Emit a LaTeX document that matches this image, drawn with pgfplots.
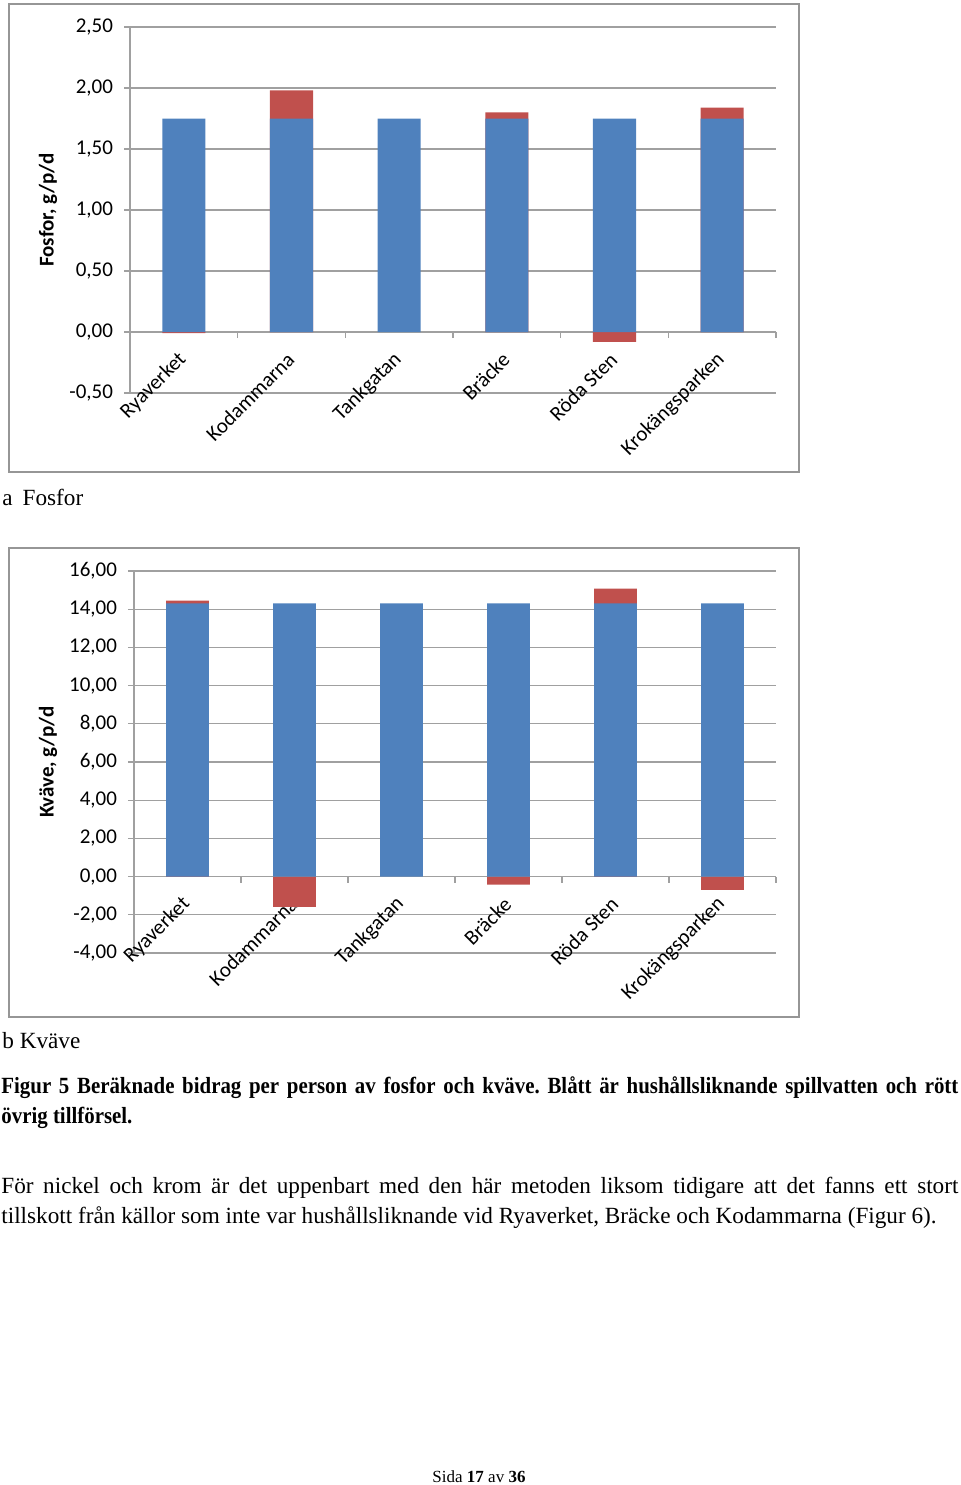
\documentclass[border=0pt]{standalone}
\usepackage{fontspec}
\setmainfont{Liberation Serif}
\newfontfamily\capfam[FakeStretch=0.9]{Liberation Serif}
\newfontfamily\chartfont{Carlito}
\usepackage{pgfplots}
\pgfplotsset{compat=1.18}
\definecolor{xlblue}{HTML}{4F81BD}
\definecolor{xlred}{HTML}{C0504D}
\definecolor{gridgray}{HTML}{A0A0A0}
\definecolor{framegray}{HTML}{969696}
\frenchspacing

\pgfplotsset{xlchart/.style={
  scale only axis,
  axis x line*=middle, axis y line*=left,
  hide obscured x ticks=false, hide obscured y ticks=false,
  xmin=0, xmax=6,
  xtick={0,...,6}, xticklabels={},
  tick align=outside, major tick length=3pt,
  every tick/.style={gridgray, line width=0.6pt},
  axis line style={gridgray, line width=0.6pt},
  ymajorgrids, grid style={gridgray, line width=0.6pt},
  extra x ticks={0.5,1.5,...,5.5},
  extra x tick labels={Ryaverket,Kodammarna,Tankgatan,Bräcke,Röda Sten,Krokängsparken},
  extra x tick style={major tick length=0pt, tick label style={rotate=45, anchor=east, xshift=-5.4pt, yshift=-8.3pt}},
  ticklabel style={font=\chartfont\fontsize{10.5}{12}\selectfont},
  yticklabel style={xshift=-2pt},
  /pgf/number format/.cd, use comma, fixed, fixed zerofill, precision=2, assume math mode=true,
  /pgfplots/.cd,
  ylabel style={font=\chartfont\bfseries\fontsize{10.5}{12}\selectfont, anchor=center},
  ybar, bar width=0.4, bar shift=0pt,
}}

\begin{document}
\begin{tikzpicture}
\path[use as bounding box] (0,0) rectangle (480pt,-742.5pt);
\draw[framegray, line width=0.6pt] (4.5pt,-2pt) rectangle (399.5pt,-236pt);
\draw[framegray, line width=0.6pt] (4.5pt,-274pt) rectangle (399.5pt,-508.5pt);

% a Fosfor
\begin{axis}[xlchart, at={(65pt,-13.5pt)}, anchor=north west,
  width=323pt, height=183pt,
  ymin=-0.5, ymax=2.5, ytick={-0.5,0,0.5,1,1.5,2,2.5},
  ylabel={Fosfor, g/p/d},
  ylabel style={at={(axis description cs:-0.127,0.5)}}]
  % red: total height where the other supply is positive
  \addplot[fill=xlred, draw=none] coordinates {(1.5,1.98) (3.5,1.80) (5.5,1.84)};
  % red: negative other supply
  \addplot[fill=xlred, draw=none] coordinates {(0.5,-0.01) (4.5,-0.08)};
  % blue: household-like wastewater
  \addplot[fill=xlblue, draw=none] coordinates {(0.5,1.75) (1.5,1.75) (2.5,1.75) (3.5,1.75) (4.5,1.75) (5.5,1.75)};
\end{axis}

% b Kvaeve
\begin{axis}[xlchart, at={(67pt,-285.5pt)}, anchor=north west,
  width=321pt, height=191pt,
  ymin=-4, ymax=16, ytick={-4,-2,...,16},
  ylabel={Kväve, g/p/d},
  ylabel style={at={(axis description cs:-0.134,0.5)}}]
  \addplot[fill=xlred, draw=none] coordinates {(0.5,14.45) (4.5,15.08)};
  \addplot[fill=xlred, draw=none] coordinates {(1.5,-1.58) (3.5,-0.42) (5.5,-0.70)};
  \addplot[fill=xlblue, draw=none] coordinates {(0.5,14.3) (1.5,14.3) (2.5,14.3) (3.5,14.3) (4.5,14.3) (5.5,14.3)};
\end{axis}

\begingroup
\fontsize{11.6}{14}\selectfont
\node[anchor=base west, inner sep=0] at (1pt,-252.5pt) {a\hspace{5pt}Fosfor};
\node[anchor=base west, inner sep=0] at (1pt,-524pt) {b Kväve};
\node[anchor=base west, inner sep=0] at (0.5pt,-546.5pt) {\makebox[478.5pt][s]{\capfam\bfseries Figur 5 Beräknade bidrag per person av fosfor och kväve. Blått är hushållsliknande spillvatten och rött}};
\node[anchor=base west, inner sep=0] at (0.5pt,-561.5pt) {\capfam\bfseries övrig tillförsel.};
\node[anchor=base west, inner sep=0] at (0.5pt,-596.5pt) {\makebox[478.5pt][s]{För nickel och krom är det uppenbart med den här metoden liksom tidigare att det fanns ett stort}};
\node[anchor=base west, inner sep=0] at (0.5pt,-611.5pt) {tillskott från källor som inte var hushållsliknande vid Ryaverket, Bräcke och Kodammarna (Figur 6).};
\endgroup
\node[anchor=base, inner sep=0, font=\fontsize{8.5}{10}\selectfont] at (239.5pt,-741pt) {Sida \textbf{17} av \textbf{36}};
\end{tikzpicture}
\end{document}
